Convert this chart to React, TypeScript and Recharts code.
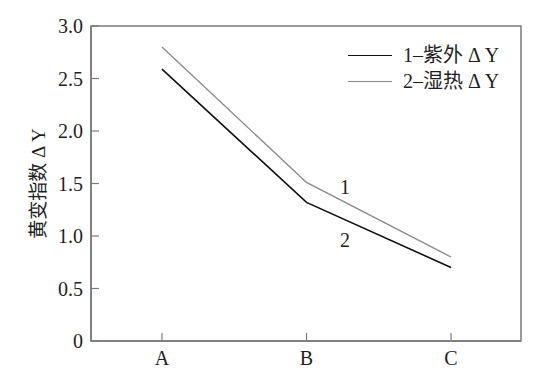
import { LineChart, Line, XAxis, YAxis, ReferenceArea, ReferenceDot } from 'recharts';

const categories = ['A', 'B', 'C'];
const uvValues = [2.59, 1.32, 0.7];
const humidHeatValues = [2.8, 1.51, 0.8];
const yTicks = [0, 0.5, 1.0, 1.5, 2.0, 2.5, 3.0];

const SERIF = '"Liberation Serif", "Times New Roman", "Noto Sans CJK SC", serif';
const AXIS_GRAY = '#7a7a7a';
const TEXT = '#1e1e1e';
const X_DOMAIN: [number, number] = [-0.491, 2.484];

const chartData = categories.map((c, i) => ({
  x: i,
  uv: uvValues[i],
  heat: humidHeatValues[i],
}));

// ticks point inward, so draw them ourselves
function YTick(props: { x: number; y: number; payload: { value: number } }) {
  const { x, y, payload } = props;
  const v = payload.value;
  return (
    <g>
      <line x1={x} y1={y} x2={x + 8} y2={y} stroke={AXIS_GRAY} strokeWidth={1.2} />
      <text x={x - 8} y={y} dy={7} textAnchor="end" fontSize={20} fontFamily={SERIF} fill={TEXT}>
        {v === 0 ? '0' : v.toFixed(1)}
      </text>
    </g>
  );
}

function XTick(props: { x: number; y: number; payload: { value: number } }) {
  const { x, y, payload } = props;
  return (
    <g>
      <line x1={x} y1={y} x2={x} y2={y - 8} stroke={AXIS_GRAY} strokeWidth={1.2} />
      <text x={x} y={y} dy={24} textAnchor="middle" fontSize={20} fontFamily={SERIF} fill={TEXT}>
        {categories[payload.value]}
      </text>
    </g>
  );
}

const legendRows = [
  { color: '#111', label: '1–紫外 Δ Y', w: 1.6 },
  { color: '#8a8a8a', label: '2–湿热 Δ Y', w: 1.4 },
];

export default function App() {
  return (
    <div style={{ width: 545, height: 361, position: 'relative' }}>
      <LineChart width={545} height={361} data={chartData} margin={{ top: 18, right: 32, bottom: 0, left: 0 }}>
        <ReferenceArea
          x1={X_DOMAIN[0]}
          x2={X_DOMAIN[1]}
          y1={0}
          y2={3}
          fill="none"
          stroke={AXIS_GRAY}
          strokeWidth={1.5}
          ifOverflow="visible"
        />
        <XAxis
          dataKey="x"
          type="number"
          domain={X_DOMAIN}
          ticks={[0, 1, 2]}
          allowDataOverflow
          height={28}
          axisLine={{ stroke: AXIS_GRAY, strokeWidth: 1.5 }}
          tickLine={false}
          tickSize={0}
          tickMargin={0}
          tick={XTick}
        />
        <YAxis
          domain={[0, 3]}
          ticks={yTicks}
          width={83}
          axisLine={{ stroke: AXIS_GRAY, strokeWidth: 1.5 }}
          tickLine={false}
          tickSize={0}
          tickMargin={0}
          tick={YTick}
          label={{
            value: '黄变指数 Δ Y',
            angle: -90,
            position: 'insideLeft',
            offset: 30,
            style: { fontSize: 19, fontFamily: SERIF, fill: TEXT, textAnchor: 'middle' },
          }}
        />
        <Line dataKey="heat" stroke="#8a8a8a" strokeWidth={1.4} dot={false} isAnimationActive={false} />
        <Line dataKey="uv" stroke="#111" strokeWidth={1.6} dot={false} isAnimationActive={false} />
        <ReferenceDot
          x={1.266}
          y={1.47}
          r={0}
          stroke="none"
          label={{ value: '1', position: 'center', fontSize: 20, fontFamily: SERIF, fill: TEXT }}
        />
        <ReferenceDot
          x={1.266}
          y={0.962}
          r={0}
          stroke="none"
          label={{ value: '2', position: 'center', fontSize: 20, fontFamily: SERIF, fill: TEXT }}
        />
      </LineChart>
      {/* legend sits inside the plot, top right */}
      <div
        style={{
          position: 'absolute',
          top: 35,
          left: 340,
          fontFamily: SERIF,
          fontSize: 20,
          color: TEXT,
          lineHeight: '25.7px',
        }}
      >
        {legendRows.map(r => (
          <div key={r.label} style={{ display: 'flex', alignItems: 'center' }}>
            <div style={{ width: 44, height: 0, borderTop: `${r.w}px solid ${r.color}`, marginRight: 11 }} />
            <span style={{ whiteSpace: 'nowrap' }}>{r.label}</span>
          </div>
        ))}
      </div>
    </div>
  );
}
